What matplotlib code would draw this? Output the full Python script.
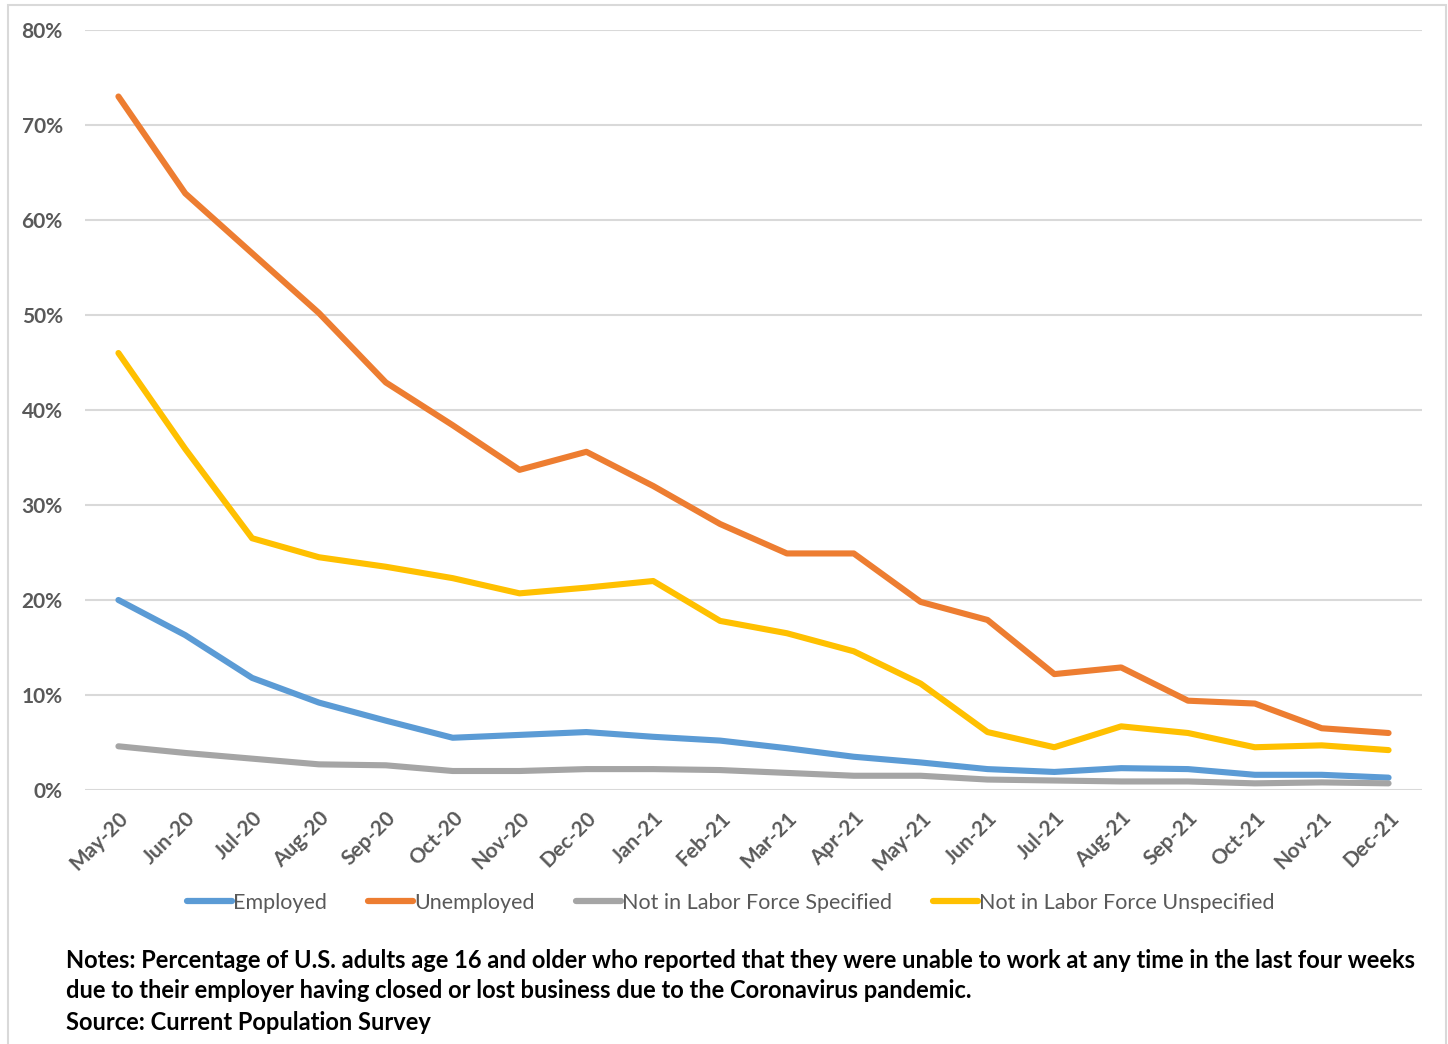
import matplotlib.pyplot as plt
from matplotlib.patches import Rectangle
from matplotlib.ticker import PercentFormatter

# Monthly share unable to work because employer closed / lost business
months = ["May-20", "Jun-20", "Jul-20", "Aug-20", "Sep-20", "Oct-20", "Nov-20", "Dec-20",
          "Jan-21", "Feb-21", "Mar-21", "Apr-21", "May-21", "Jun-21", "Jul-21", "Aug-21",
          "Sep-21", "Oct-21", "Nov-21", "Dec-21"]

employed = [20.0, 16.3, 11.8, 9.2, 7.3, 5.5, 5.8, 6.1, 5.6, 5.2,
            4.4, 3.5, 2.9, 2.2, 1.9, 2.3, 2.2, 1.6, 1.6, 1.3]
unemployed = [73.0, 62.8, 56.5, 50.2, 42.9, 38.4, 33.7, 35.6, 32.0, 28.0,
              24.9, 24.9, 19.8, 17.9, 12.2, 12.9, 9.4, 9.1, 6.5, 6.0]
nilf_specified = [4.6, 3.9, 3.3, 2.7, 2.6, 2.0, 2.0, 2.2, 2.2, 2.1,
                  1.8, 1.5, 1.5, 1.1, 1.0, 0.9, 0.9, 0.7, 0.8, 0.7]
nilf_unspecified = [46.0, 35.9, 26.5, 24.5, 23.5, 22.3, 20.7, 21.3, 22.0, 17.8,
                    16.5, 14.6, 11.2, 6.1, 4.5, 6.7, 6.0, 4.5, 4.7, 4.2]

series = [
    ("Employed", employed, "#5B9BD5"),
    ("Unemployed", unemployed, "#ED7D31"),
    ("Not in Labor Force Specified", nilf_specified, "#A5A5A5"),
    ("Not in Labor Force Unspecified", nilf_unspecified, "#FFC000"),
]

note_lines = [
    "Notes: Percentage of U.S. adults age 16 and older who reported that they were unable to work at any time in the last four weeks",
    "due to their employer having closed or lost business due to the Coronavirus pandemic.",
    "Source: Current Population Survey",
]

plt.rcParams["font.family"] = ["Lato", "DejaVu Sans"]
GREY_TXT = "#595959"

fig = plt.figure(figsize=(14.48, 10.44), dpi=100)
fig.patch.set_facecolor("white")

# thin frame around the whole chart
fig.patches.append(Rectangle((8 / 1448, -0.05), 1438 / 1448, 1.05 - 5 / 1044,
                             transform=fig.transFigure, fill=False,
                             edgecolor="#D9D9D9", linewidth=1.5))

ax = fig.add_axes([85 / 1448, 1 - 790 / 1044, (1422 - 85) / 1448, 760 / 1044])

x = list(range(len(months)))
for name, vals, color in series:
    ax.plot(x, [v / 100 for v in vals], color=color, linewidth=4.4,
            solid_capstyle="round", solid_joinstyle="round", label=name, zorder=3)

ax.set_xlim(-0.5, len(months) - 0.5)
ax.set_ylim(0, 0.8)
ax.set_yticks([i / 10 for i in range(9)])
ax.yaxis.set_major_formatter(PercentFormatter(1.0, decimals=0))
ax.grid(axis="y", color="#D9D9D9", linewidth=1.5, zorder=0)
ax.set_axisbelow(True)
for s in ax.spines.values():
    s.set_visible(False)

ax.set_xticks(x)
ax.set_xticklabels(months, rotation=45, ha="right", rotation_mode="anchor")
ax.tick_params(axis="both", length=0, labelsize=15, labelcolor=GREY_TXT)
ax.tick_params(axis="x", pad=13)
ax.tick_params(axis="y", pad=16)
for lbl in ax.get_xticklabels() + ax.get_yticklabels():
    lbl.set_fontweight("bold")

leg = fig.legend(loc="center", bbox_to_anchor=(731 / 1448, 1 - 903 / 1044), ncol=4,
                 frameon=False, fontsize=15.5, handlelength=2.1, handletextpad=0.05,
                 columnspacing=1.9)
for t in leg.get_texts():
    t.set_color(GREY_TXT)
for h in leg.legend_handles:
    h.set_linewidth(4.5)

for i, line in enumerate(note_lines):
    fig.text(66 / 1448, 1 - (960 + 31 * i) / 1044, line, ha="left", va="center",
             fontsize=17, fontweight="bold", color="black")

fig.savefig("out.png", dpi=100)
